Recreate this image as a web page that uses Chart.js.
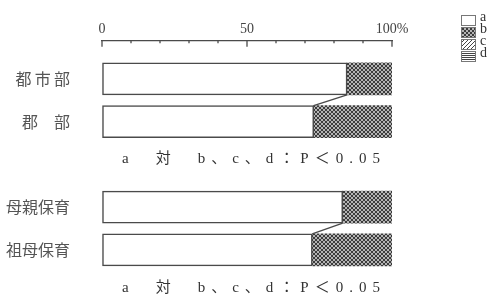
<!DOCTYPE html>
<html>
<head>
<meta charset="utf-8">
<script src="https://cdn.jsdelivr.net/npm/chart.js@4.4.0/dist/chart.umd.min.js"></script>
<style>
  body { margin: 0; background: #fff; }
  #wrap { position: relative; width: 496px; height: 295px; overflow: hidden; }
  #chart { position: absolute; left: 0; top: 0; }
  .note {
    position: absolute; left: 0; width: 496px; text-align: center;
    font: 15px "Liberation Serif", "Noto Sans CJK JP", serif;
    letter-spacing: 6px; color: #333; padding-left: 12px; box-sizing: border-box;
  }
  .leg { position: absolute; left: 461px; height: 11px; }
  .leg span { position: absolute; left: 19px; top: -3px; font: 14px "Liberation Serif", serif; color: #333; }
</style>
</head>
<body>
<div id="wrap">
  <canvas id="chart" width="496" height="295" style="width:496px;height:295px"></canvas>
  <div class="note" style="top:146px">a　対　b、c、d：P＜0.05</div>
  <div class="note" style="top:275px">a　対　b、c、d：P＜0.05</div>
  <div id="legend"></div>
</div>
<script>
// --- données ---
const groups = ['都\u2009市\u2009部', '郡　部', '母親保育', '祖母保育'];
const rowSlots = [0, 1, 3, 4];          // emplacement de chaque barre (trou entre les deux groupes)
const seriesNames = ['a', 'b', 'c', 'd'];
const valuesA = [84.5, 73, 83, 72.5];
const valuesB = [15.5, 27, 17, 27.5];
const valuesC = [0, 0, 0, 0];
const valuesD = [0, 0, 0, 0];
const xTickLabels = { 0: '0', 50: '50', 100: '100%' };

// --- motifs de remplissage ---
function makePattern(kind) {
    const c = document.createElement('canvas');
    c.width = 4; c.height = 4;
    const g = c.getContext('2d');
    if (kind === 'a') {
        g.fillStyle = '#fff'; g.fillRect(0, 0, 4, 4);
    } else if (kind === 'b') {
        g.fillStyle = '#b4b4b4'; g.fillRect(0, 0, 4, 4);
        g.fillStyle = '#3c3c3c';
        for (let i = 0; i < 4; i++) { g.fillRect(i, i, 1, 1); g.fillRect(3 - i, i, 1, 1); }
    } else if (kind === 'c') {
        g.fillStyle = '#fff'; g.fillRect(0, 0, 4, 4);
        g.fillStyle = '#444';
        for (let i = 0; i < 4; i++) g.fillRect(3 - i, i, 1, 1);
    } else {
        g.fillStyle = '#fff'; g.fillRect(0, 0, 4, 4);
        g.fillStyle = '#444'; g.fillRect(0, 0, 4, 1); g.fillRect(0, 2, 4, 1);
    }
    return g.createPattern(c, 'repeat');
}

const toPoints = vals => vals.map((v, i) => ({ x: v, y: rowSlots[i] }));
const seriesValues = [valuesA, valuesB, valuesC, valuesD];

const datasets = seriesNames.map((name, k) => ({
    label: name,
    data: toPoints(seriesValues[k]),
    backgroundColor: makePattern(name),
    borderColor: '#4a4a4a',
    borderWidth: k === 0 ? 1.5 : 0,
    borderSkipped: false,
    barThickness: 32
}));

// lignes obliques reliant la fin des segments "a" de chaque paire
const linkPlugin = {
    id: 'links',
    afterDatasetsDraw(chart) {
        const bars = chart.getDatasetMeta(0).data;
        const ctx = chart.ctx;
        ctx.save();
        ctx.strokeStyle = '#4a4a4a';
        ctx.lineWidth = 1.3;
        [[0, 1], [2, 3]].forEach(([i, j]) => {
            const p = bars[i], q = bars[j];
            ctx.beginPath();
            ctx.moveTo(p.x, p.y + p.height / 2);
            ctx.lineTo(q.x, q.y - q.height / 2);
            ctx.stroke();
        });
        // petites graduations vers le bas sous l'axe du haut
        const xs = chart.scales.x;
        const top = chart.chartArea.top;
        xs.ticks.forEach(t => {
            const px = xs.getPixelForValue(t.value);
            const len = (t.value % 50 === 0) ? 6 : 2.5;
            ctx.beginPath();
            ctx.moveTo(px, top);
            ctx.lineTo(px, top + len);
            ctx.stroke();
        });
        ctx.restore();
    }
};

new Chart(document.getElementById('chart'), {
    type: 'bar',
    data: { datasets },
    options: {
        indexAxis: 'y',
        responsive: false,
        maintainAspectRatio: false,
        animation: false,
        layout: { padding: { left: 6, right: 104, top: 18, bottom: 5 } },
        plugins: { legend: { display: false }, tooltip: { enabled: false } },
        scales: {
            x: {
                position: 'top',
                stacked: true,
                min: 0, max: 100,
                ticks: {
                    stepSize: 10,
                    autoSkip: false,
                    maxRotation: 0,
                    padding: 3,
                    color: '#444',
                    font: { family: '"Liberation Serif", serif', size: 14 },
                    callback: v => xTickLabels[v] ?? ''
                },
                grid: { drawOnChartArea: false, drawTicks: false },
                border: { display: true, color: '#4a4a4a', width: 1.3 }
            },
            y: {
                type: 'linear',
                stacked: true,
                reverse: true,
                offset: false,
                min: -0.89, max: 4.94,
                afterBuildTicks: s => { s.ticks = rowSlots.map(v => ({ value: v })); },
                // largeur fixe, et pas de marge verticale ajoutée par le padding des étiquettes
                afterFit: s => { s.width = 96; s.paddingTop = 0; s.paddingBottom = 0; },
                ticks: {
                    padding: 32,
                    color: '#555',
                    font: { family: '"Noto Sans CJK JP", sans-serif', size: 16 },
                    callback: (v, i) => groups[i]
                },
                grid: { display: false, drawTicks: false, offset: false },
                border: { display: false }
            }
        }
    },
    plugins: [linkPlugin]
});

// --- légende ---
const legend = document.getElementById('legend');
seriesNames.forEach((name, k) => {
    const d = document.createElement('div');
    d.className = 'leg';
    d.style.top = (12 + k * 12) + 'px';
    const sw = document.createElement('canvas');
    sw.width = 15; sw.height = 11;
    const g = sw.getContext('2d');
    g.fillStyle = makePattern(name);
    g.fillRect(0, 0, 15, 11);
    g.strokeStyle = '#777';
    g.strokeRect(0.5, 0.5, 14, 10);
    d.appendChild(sw);
    const s = document.createElement('span');
    s.textContent = name;
    d.appendChild(s);
    legend.appendChild(d);
});
</script>
</body>
</html>
